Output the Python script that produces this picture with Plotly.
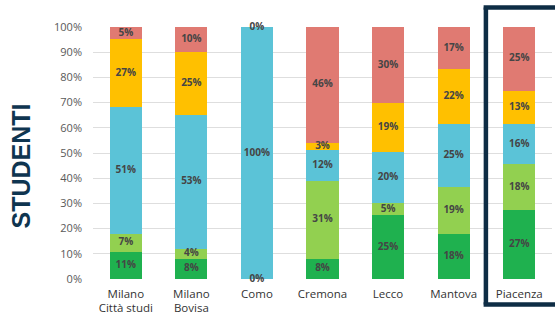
import numpy as np
import plotly.graph_objects as go

categories = ["Milano<br>Città studi", "Milano<br>Bovisa", "Como", "Cremona", "Lecco", "Mantova", "Piacenza"]
dark_green = [11, 8, 0, 8, 25, 18, 27]
light_green = [7, 4, 0, 31, 5, 19, 18]
blue = [51, 53, 100, 12, 20, 25, 16]
yellow = [27, 25, 0, 3, 19, 22, 13]
red = [5, 10, 0, 46, 30, 17, 25]
y_ticks = [0, 10, 20, 30, 40, 50, 60, 70, 80, 90, 100]

series = [dark_green, light_green, blue, yellow, red]
colors = ["#1fb14f", "#92d050", "#5bc3d7", "#ffc000", "#e07a72"]
# which zero-valued labels are shown (Como shows 0% bottom and top)
show_zero = [True, False, True, False, True]

fig = go.Figure()
vals = np.array(series, dtype=float)
totals = vals.sum(axis=0)
norm = vals / totals * 100
cum = np.cumsum(norm, axis=0)
mids = cum - norm / 2

for i, s in enumerate(series):
    fig.add_trace(go.Bar(x=categories, y=norm[i], marker=dict(color=colors[i], line=dict(width=0)),
                         width=0.49, showlegend=False, hoverinfo="skip"))

tx, ty, tt = [], [], []
for i, s in enumerate(series):
    for j, v in enumerate(s):
        if v == 0 and not show_zero[i]:
            continue
        tx.append(categories[j])
        ty.append(mids[i][j])
        tt.append(f"<b>{v}%</b>")
fig.add_trace(go.Scatter(x=tx, y=ty, text=tt, mode="text", textposition="middle center",
                         textfont=dict(family="Open Sans", size=10, color="#454545"),
                         showlegend=False, hoverinfo="skip", cliponaxis=False))

fig.update_layout(
    barmode="stack",
    bargap=0.5,
    width=555, height=316,
    margin=dict(l=93, r=3, t=27, b=37),
    paper_bgcolor="white", plot_bgcolor="white",
    font=dict(family="Open Sans", color="#555555"),
    xaxis=dict(showgrid=False, showline=False, ticks="", tickfont=dict(size=11.5, color="#333333"),
               range=[-0.5, 6.5], automargin=False, ticklabelstandoff=6),
    yaxis=dict(range=[0, 100], tickvals=y_ticks, ticktext=[f"{t}%" for t in y_ticks],
               showgrid=True, gridcolor="#dedede", gridwidth=1, zeroline=False, showline=False,
               tickfont=dict(size=11, color="#595959"), ticks="", ticklabelstandoff=10,
               automargin=False),
)

# highlight frame around Piacenza (open on the right, running off the page)
fig.add_shape(type="line", xref="paper", yref="paper", x0=0.856, x1=0.856, y0=-0.101, y1=1.077,
              line=dict(color="#0e2d45", width=4.5), layer="above")
fig.add_shape(type="line", xref="paper", yref="paper", x0=0.851, x1=1.2, y0=1.077, y1=1.077,
              line=dict(color="#0e2d45", width=4.5), layer="above")
fig.add_shape(type="line", xref="paper", yref="paper", x0=0.851, x1=1.2, y0=-0.101, y1=-0.101,
              line=dict(color="#0e2d45", width=4.5), layer="above")

fig.add_annotation(text="<b>STUDENTI</b>", xref="paper", yref="paper", x=-0.157, y=0.45,
                   xanchor="center", yanchor="middle", textangle=-90, showarrow=False,
                   font=dict(family="Liberation Sans", size=25, color="#0f3550"))

fig.write_html("out.html", config={"displayModeBar": False},
               post_script="document.body.style.margin='0';document.body.style.overflow='hidden';")
